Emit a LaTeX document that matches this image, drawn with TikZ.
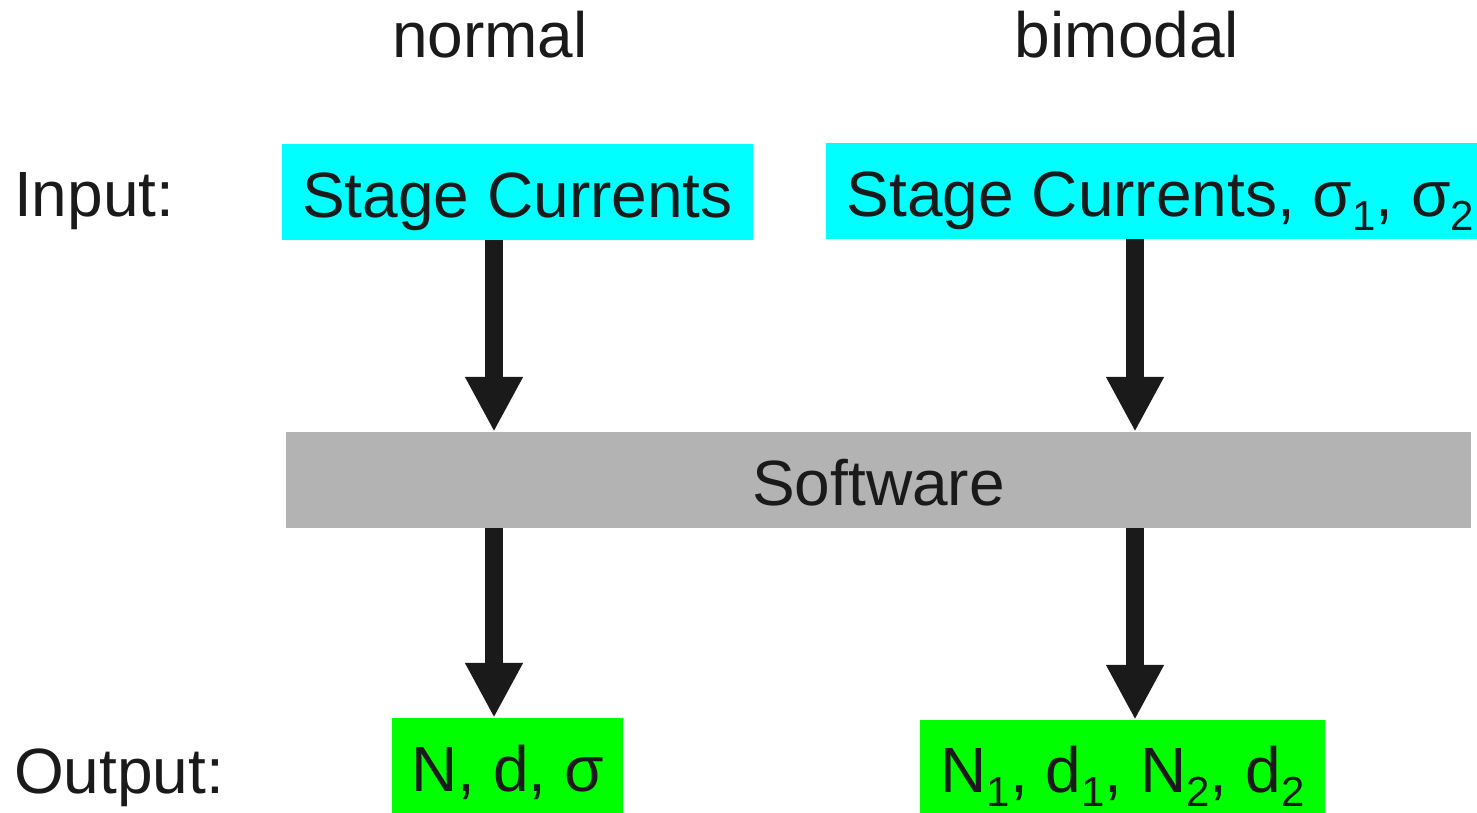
\documentclass[tikz,border=0pt]{standalone}
\usepackage{fontspec}
\setmainfont{Liberation Sans}
\usetikzlibrary{arrows.meta}
\definecolor{txt}{HTML}{1A1A1A}
\definecolor{incol}{HTML}{00FFFF}
\definecolor{outcol}{HTML}{00FF00}
\definecolor{softcol}{HTML}{B3B3B3}
\newcommand{\sbs}[1]{\raisebox{-0.22em}{\fontsize{42}{42}\selectfont #1}}
\begin{document}
\begin{tikzpicture}[x=1pt,y=-1pt,
  lab/.style={font=\fontsize{64}{72}\selectfont, text=txt, inner sep=0pt},
  boxn/.style={font=\fontsize{64}{72}\selectfont, text=txt, inner sep=0pt,
    text height=51pt, text depth=0pt},
  arr/.style={draw=txt, line width=18pt,
    -{Triangle[width=54pt,length=55pt]}, fill=txt}]
\useasboundingbox (0,0) rectangle (1477,813);
\node[lab, anchor=base] (tn) at (490,58) {normal};
\node[lab, anchor=base] (tb) at (1127,58) {bimodal};
\node[lab, anchor=base west] (tin) at (14,217) {Input:};
\node[lab, anchor=base west] (tout) at (14,793) {Output:};
\node[boxn, fill=incol, minimum width=471pt, minimum height=96pt] (in1) at (517.5,192) {Stage Currents};
\node[boxn, fill=incol, minimum width=651pt, minimum height=96pt] (in2) at (1151.5,191) {\hspace*{18pt}Stage Currents, σ\sbs{1}, σ\sbs{2}};
\node[boxn, fill=softcol, minimum width=1185pt, minimum height=96pt] (soft) at (878.5,480) {Software};
\node[boxn, fill=outcol, minimum width=231pt, minimum height=95pt] (out1) at (507.5,765.5) {N, d, σ};
\node[boxn, fill=outcol, minimum width=405pt, minimum height=93pt] (out2) at (1122.5,766.5) {N\sbs{1}, d\sbs{1}, N\sbs{2}, d\sbs{2}};
\coordinate (cL) at (494,0);
\coordinate (cR) at (1135,0);
\draw[arr] (in1.south -| cL) -- (soft.north -| cL);
\draw[arr] (in2.south -| cR) -- (soft.north -| cR);
\draw[arr] (soft.south -| cL) -- (out1.north -| cL);
\draw[arr] (soft.south -| cR) -- (out2.north -| cR);
\end{tikzpicture}
\end{document}
